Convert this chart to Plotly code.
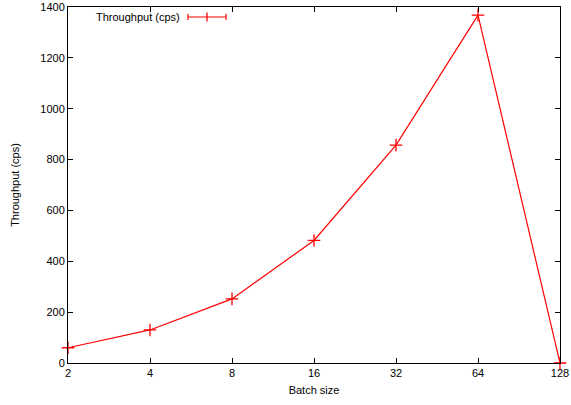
import plotly.graph_objects as go
import math

batch_sizes = [2, 4, 8, 16, 32, 64, 128]
throughput = [60, 130, 252, 482, 857, 1368, 0]
x_tick_labels = ["2", "4", "8", "16", "32", "64", "128"]
y_tick_vals = [0, 200, 400, 600, 800, 1000, 1200, 1400]
series_name = "Throughput (cps)"

RED = "#ff0000"
FONT = "Liberation Sans, Arial, sans-serif"

fig = go.Figure()
fig.add_trace(go.Scatter(
    x=batch_sizes, y=throughput, mode="lines+markers", name=series_name,
    line=dict(color=RED, width=1.2),
    marker=dict(symbol="cross-thin", size=9, line=dict(color=RED, width=1.3)),
    showlegend=False, cliponaxis=False,
))

W, H = 571, 405
ml, mr, mt, mb = 68, 11, 7, 42
pw = W - ml - mr
ph = H - mt - mb

def px(x):
    return (x - ml) / pw

def py(y):
    return (H - mb - y) / ph

# legend (gnuplot-style: text then sample)
ly = py(17)
fig.add_annotation(x=px(182), y=ly, xref="paper", yref="paper", text=series_name,
                   showarrow=False, xanchor="right", yanchor="middle",
                   font=dict(family=FONT, size=11, color="black"))
fig.add_shape(type="line", xref="paper", yref="paper", x0=px(188), x1=px(226), y0=ly, y1=ly,
              line=dict(color=RED, width=1.2))
for cx in (188, 226):
    fig.add_shape(type="line", xref="paper", yref="paper", x0=px(cx), x1=px(cx),
                  y0=py(20), y1=py(14), line=dict(color=RED, width=1.2))
fig.add_shape(type="line", xref="paper", yref="paper", x0=px(207), x1=px(207),
              y0=py(21.5), y1=py(12.5), line=dict(color=RED, width=1.3))

axis_common = dict(showline=True, linecolor="black", linewidth=1, mirror="ticks",
                   ticks="inside", ticklen=5, tickcolor="black", tickwidth=1,
                   showgrid=False, zeroline=False, automargin=False,
                   tickfont=dict(family=FONT, size=11, color="black"),
                   title_font=dict(family=FONT, size=11, color="black"))

eps = 1e-6
fig.update_layout(
    width=W, height=H,
    margin=dict(l=ml, r=mr, t=mt, b=mb, pad=0),
    paper_bgcolor="white", plot_bgcolor="white",
    xaxis=dict(type="log", range=[math.log10(2) - eps, math.log10(128) + eps],
               tickvals=batch_sizes, ticktext=x_tick_labels,
               title=dict(text="Batch size", standoff=8), **axis_common),
    yaxis=dict(range=[0, 1400], tickvals=y_tick_vals,
               title=dict(text="Throughput (cps)", standoff=18), **axis_common),
)

fig.write_html("out.html", config={"displayModeBar": False},
               post_script="document.body.style.margin='0';document.body.style.padding='0';")
